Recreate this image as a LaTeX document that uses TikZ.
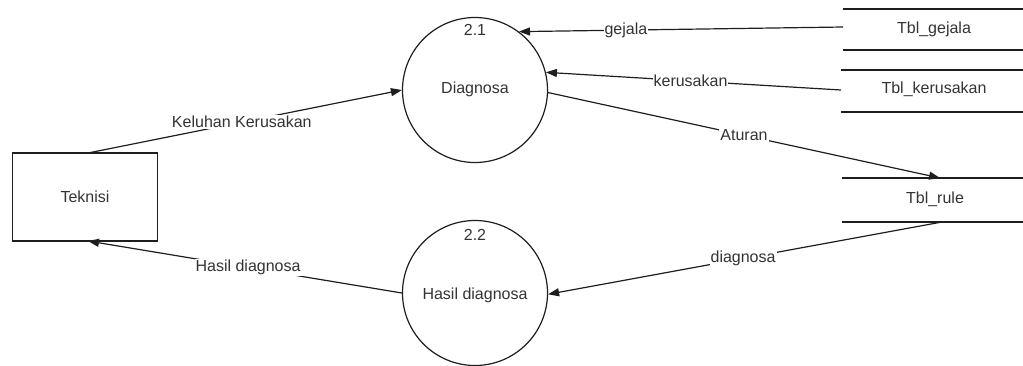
\documentclass[tikz,border=0pt]{standalone}
\usepackage{fontspec}
\setmainfont{Liberation Sans}
\usetikzlibrary{arrows.meta}
\definecolor{ink}{HTML}{1E1E1E}
\definecolor{txt}{HTML}{333333}
\begin{document}
\begin{tikzpicture}[x=1pt,y=-1pt,
  every node/.style={font=\fontsize{16}{18}\selectfont, text=txt},
  proc/.style={circle, draw=ink, line width=1.2pt, minimum size=145pt, inner sep=0pt},
  entity/.style={rectangle, draw=ink, line width=1.2pt, minimum width=145pt, minimum height=88pt},
  store/.style={inner sep=0pt},
  flow/.style={draw=ink, line width=1.2pt, -{Triangle[length=11pt,width=8pt]}},
  plain/.style={draw=ink, line width=1.2pt},
  lbl/.style={fill=white, inner sep=1pt}]
\useasboundingbox (0,0) rectangle (1023,365);

% processes
\node[proc] (diag) at (475,90) {};
\node at (475,89) {Diagnosa};
\node at (475,30) {2.1};
\node[proc] (hasil) at (475,293) {};
\node at (475,295) {Hasil diagnosa};
\node at (475,235) {2.2};

% external entity
\node[entity] (tekn) at (85,197) {Teknisi};

% data stores
\draw[plain] (843,9) -- (1023,9);
\draw[plain] (843,50) -- (1023,50);
\node[store] (tg) at (934,29) {Tbl\_gejala};
\draw[plain] (841,70) -- (1023,70);
\draw[plain] (841,112) -- (1023,112);
\node[store] (tk) at (934,89) {Tbl\_kerusakan};
\draw[plain] (842,178) -- (1023,178);
\draw[plain] (842,222) -- (1023,222);
\node[store] (tr) at (935,199) {Tbl\_rule};

\coordinate (tgin) at (843,27);
\coordinate (tkin) at (841,90);
\coordinate (trtop) at (940,178);
\coordinate (trbot) at (942,222);
\coordinate (tektop) at (88,153);
\coordinate (tekbot) at (88,241);

% data flows
\draw[flow] (tektop) -- node[lbl, pos=0.49] {Keluhan Kerusakan} (diag.west);
\draw[flow] (tgin) -- node[lbl, pos=0.67] {gejala} (diag.53);
\draw[flow] (tkin) -- node[lbl, pos=0.51] {kerusakan} (diag.14);
\draw[flow] (diag.-2) -- node[lbl, pos=0.5] {Aturan} (trtop);
\draw[flow] (trbot) -- node[lbl, pos=0.505] {diagnosa} (hasil.-1);
\draw[flow] (hasil.west) -- node[lbl, pos=0.49] {Hasil diagnosa} (tekbot);
\end{tikzpicture}
\end{document}
